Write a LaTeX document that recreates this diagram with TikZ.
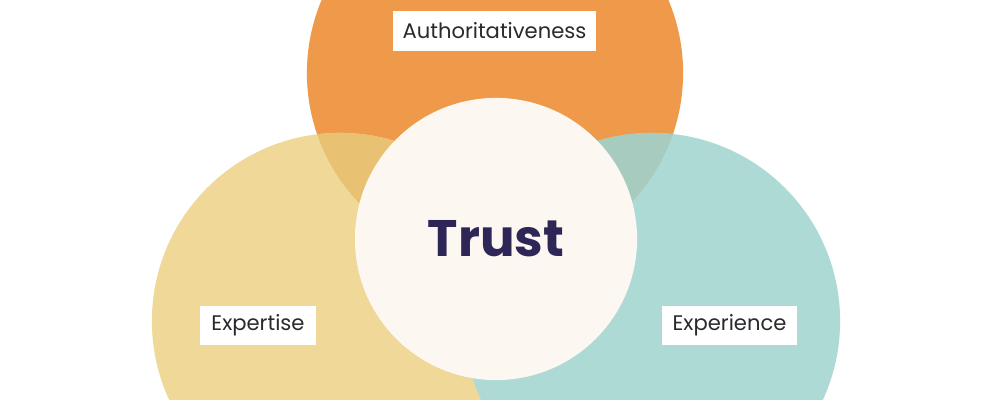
\documentclass[tikz,border=0pt]{standalone}
\usepackage{fontspec}
\setmainfont{Poppins}
\definecolor{orangeC}{HTML}{EF9A4B}
\definecolor{yellowC}{HTML}{F0D898}
\definecolor{tealC}{HTML}{AEDAD6}
\definecolor{yoC}{HTML}{E8C172}
\definecolor{toC}{HTML}{A8CBC0}
\definecolor{creamC}{HTML}{FDF7F1}
\definecolor{navyC}{HTML}{2E2656}
\definecolor{labelC}{HTML}{2A2A2E}
\begin{document}
\begin{tikzpicture}[x=0.01cm,y=-0.01cm,
  bigcirc/.style={circle, inner sep=0pt, minimum size=3.76cm},
  labelbox/.style={rectangle, fill=white, inner sep=0pt, minimum height=0.39cm, text=labelC, font=\fontsize{6.0}{7}\selectfont}]
\useasboundingbox (0,0) rectangle (1000,400);
\clip (0,0) rectangle (1000,400);
\fill[white] (0,0) rectangle (1000,400);
\node[bigcirc, fill=orangeC] (auth) at (495,73) {};
\node[bigcirc, fill=yellowC] (expt) at (340,321) {};
\begin{scope}
  \clip (auth.center) circle[radius=1.88cm];
  \fill[yoC] (expt.center) circle[radius=1.88cm];
\end{scope}
\node[bigcirc, fill=tealC] (expr) at (652,321) {};
\begin{scope}
  \clip (auth.center) circle[radius=1.88cm];
  \fill[toC] (expr.center) circle[radius=1.88cm];
\end{scope}
\node[circle, inner sep=0pt, minimum size=2.82cm, fill=creamC, text=navyC, font=\fontsize{14.6}{16}\selectfont\bfseries] (trust) at (496,239) {Trust};
\node[labelbox, minimum width=2.03cm] (lauth) at (494.5,31) {Authoritativeness};
\node[labelbox, minimum width=1.16cm] (lexpt) at (258,325.5) {Expertise};
\node[labelbox, minimum width=1.35cm] (lexpr) at (729.5,325.5) {Experience};
\end{tikzpicture}
\end{document}
